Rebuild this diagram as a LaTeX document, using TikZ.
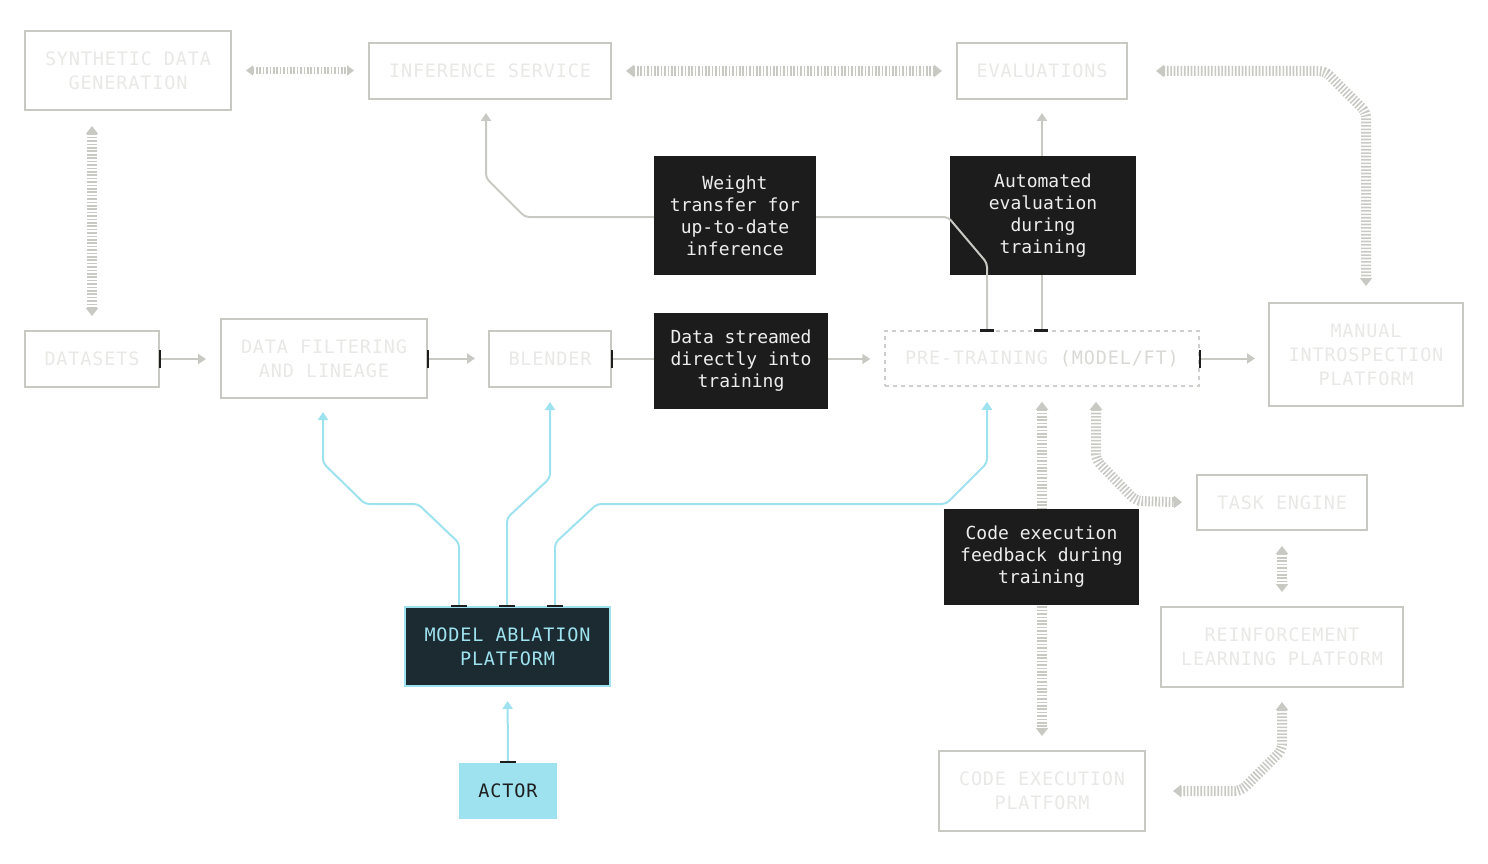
\documentclass[tikz,border=0pt]{standalone}
\usepackage{fontspec}
\setmonofont{DejaVu Sans Mono}
\newfontfamily\capsf[LetterSpace=4.5]{DejaVu Sans Mono}
\usetikzlibrary{arrows.meta}
\definecolor{lg}{HTML}{C9C9C4}
\definecolor{txt}{HTML}{E8E8E6}
\definecolor{txtb}{HTML}{D8D8D5}
\definecolor{blk}{HTML}{1C1C1C}
\definecolor{wtxt}{HTML}{EDEDED}
\definecolor{cy}{HTML}{9EE2EF}
\definecolor{dk}{HTML}{1B2B31}
\definecolor{tk}{HTML}{1E1E1E}
\begin{document}
\begin{tikzpicture}[x=1pt,y=-1pt,
  box/.style={draw=lg, line width=2pt, text=txt, font=\capsf\fontsize{18.5}{24}\selectfont, align=center, inner sep=0pt},
  dbox/.style={fill=blk, text=wtxt, font=\ttfamily\fontsize{18}{22}\selectfont, align=center, inner sep=0pt},
  conn/.style={draw=lg, line width=2pt, -{Triangle[width=10pt,length=8pt]}, rounded corners=4pt},
  cconn/.style={conn, draw=cy},
  hatch/.style={draw=lg, line width=10pt, dash pattern=on 1.6pt off 1.8pt, {Triangle[width=12pt,length=8pt]}-{Triangle[width=12pt,length=8pt]}, rounded corners=6pt},
  tick/.style={draw=tk, line width=2.5pt}]
\useasboundingbox (0,0) rectangle (1488,864);

% plain boxes
\node[box, minimum width=206pt, minimum height=79pt] (synth) at (128,70.5) {SYNTHETIC DATA\\GENERATION};
\node[box, minimum width=242pt, minimum height=56pt] (inf) at (490,71) {INFERENCE SERVICE};
\node[box, minimum width=170pt, minimum height=56pt] (eval) at (1042,71) {EVALUATIONS};
\node[box, minimum width=134pt, minimum height=56pt] (datasets) at (92,359) {DATASETS};
\node[box, minimum width=206pt, minimum height=79pt] (filter) at (324,358.5) {DATA FILTERING\\AND LINEAGE};
\node[box, minimum width=122pt, minimum height=56pt] (blender) at (550,359) {BLENDER};
\node[box, draw=lg!90, line width=1.5pt, dash pattern=on 4pt off 4pt, minimum width=314pt, minimum height=55pt] (pre) at (1042,358.5) {PRE-TRAINING \textcolor{txtb}{(MODEL/FT)}};
\node[box, minimum width=194pt, minimum height=103pt] (manual) at (1366,354.5) {MANUAL\\INTROSPECTION\\PLATFORM};
\node[box, minimum width=170pt, minimum height=55pt] (task) at (1282,502.5) {TASK ENGINE};
\node[box, minimum width=242pt, minimum height=80pt] (rl) at (1282,647) {REINFORCEMENT\\LEARNING PLATFORM};
\node[box, minimum width=206pt, minimum height=80pt] (codeplat) at (1042,791) {CODE EXECUTION\\PLATFORM};
\node[box, draw=cy, fill=dk, text=cy, minimum width=205pt, minimum height=79pt] (mab) at (507.5,646.5) {MODEL ABLATION\\PLATFORM};
\node[box, draw=none, fill=cy, text=tk, minimum width=98pt, minimum height=56pt] (actor) at (508,791) {ACTOR};

% hatched two-way connectors
\draw[hatch, line width=7pt, {Triangle[width=10pt,length=7pt]}-{Triangle[width=10pt,length=7pt]}, shorten <=14pt, shorten >=14pt] (synth.east) -- (synth.east -| inf.west);
\draw[hatch, shorten <=14pt, shorten >=14pt] (inf.east) -- (eval.west);
\draw[hatch, shorten <=28pt, shorten >=16pt] (eval.east) -- (1325,71) -- (1366,112) -- (manual.north);
\draw[hatch, shorten <=15pt, shorten >=14pt] (synth.south -| datasets.north) -- (datasets.north);
\draw[hatch, shorten <=15pt, shorten >=14pt] (pre.south) -- (codeplat.north);
\draw[hatch, shorten <=15pt, shorten >=14pt] ([xshift=54pt]pre.south) -- (1096,460) -- (1136,501) -- (task.west);
\draw[hatch, shorten <=15pt, shorten >=14pt] (task.south) -- (rl.north);
\draw[hatch, shorten <=14pt, shorten >=27pt] (rl.south) -- (1282,750) -- (1241,791) -- (codeplat.east);

% thin gray connectors
\draw[conn, shorten >=14pt] (datasets.east) -- (datasets.east -| filter.west);
\draw[conn, shorten >=13pt] (filter.east) -- (filter.east -| blender.west);
\draw[conn, shorten >=14pt] (blender.east) -- (blender.east -| pre.west);
\draw[conn, shorten >=13pt] (pre.east) -- (pre.east -| manual.west);
\draw[conn, shorten >=13pt] (pre.north) -- (eval.south);

% automated evaluation box (the weight-transfer line runs over it)
\node[dbox, minimum width=186pt, minimum height=119pt] (autoeval) at (1043,215.5) {Automated\\evaluation\\during\\training};
\draw[conn, shorten >=13pt] ([xshift=-55pt]pre.north) -- (987,263) -- (948,217) -- (525,217) -- (486,178) -- ([xshift=-4pt]inf.south);

% cyan connectors
\draw[cconn, shorten >=13pt] ([xshift=-48.5pt]mab.north) -- (459,543) -- (418,504) -- (365,504) -- (323,463) -- ([xshift=-1pt]filter.south);
\draw[cconn, shorten >=14pt] ([xshift=-0.5pt]mab.north) -- (507,518) -- (550,478) -- (blender.south);
\draw[cconn, shorten >=15pt] ([xshift=47.5pt]mab.north) -- (555,543) -- (597,504) -- (946,504) -- (987,463) -- ([xshift=-55pt]pre.south);
\draw[cconn, shorten >=14pt] (actor.north) -- (mab.south);

% dark label boxes
\node[dbox, minimum width=174pt, minimum height=96pt] (stream) at (741,361) {Data streamed\\directly into\\training};
\node[dbox, minimum width=162pt, minimum height=119pt] (weight) at (735,215.5) {Weight\\transfer for\\up-to-date\\inference};
\node[dbox, minimum width=195pt, minimum height=96pt] (codefb) at (1041.5,557) {Code execution\\feedback during\\training};

% start ticks
\draw[tick] ([yshift=-9pt]datasets.east) -- ([yshift=9pt]datasets.east);
\draw[tick] ([yshift=-9pt]filter.east) -- ([yshift=9pt]filter.east);
\draw[tick] ([yshift=-9pt]blender.east) -- ([yshift=9pt]blender.east);
\draw[tick] ([yshift=-9pt]pre.east) -- ([yshift=9pt]pre.east);
\draw[tick] ([xshift=-62pt]pre.north) -- ([xshift=-48pt]pre.north);
\draw[tick] ([xshift=-8pt]pre.north) -- ([xshift=6pt]pre.north);
\draw[tick] ([xshift=-56.5pt]mab.north) -- ([xshift=-40.5pt]mab.north);
\draw[tick] ([xshift=-8.5pt]mab.north) -- ([xshift=7.5pt]mab.north);
\draw[tick] ([xshift=39.5pt]mab.north) -- ([xshift=55.5pt]mab.north);
\draw[tick] ([xshift=-8pt]actor.north) -- ([xshift=8pt]actor.north);
\end{tikzpicture}
\end{document}
